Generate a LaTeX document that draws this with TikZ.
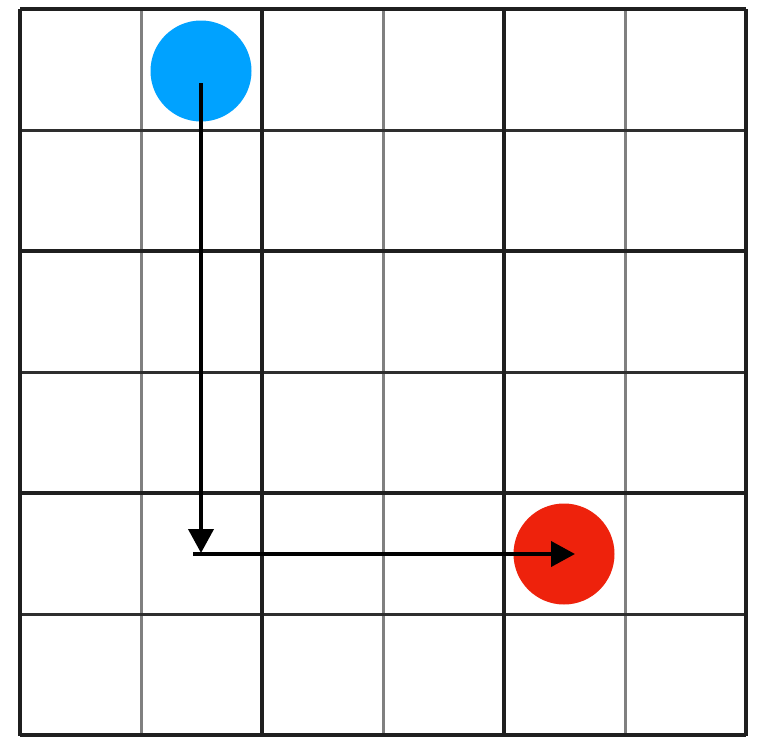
\documentclass[tikz,border=0pt]{standalone}
\usetikzlibrary{arrows.meta}
\definecolor{dotblue}{HTML}{00A2FF}
\definecolor{dotred}{HTML}{EE220C}
\begin{document}
\begin{tikzpicture}[x=1pt,y=-1pt,
  major/.style={line width=3.6pt,black!88},
  minorv/.style={line width=3pt,black!50},
  minorh/.style={line width=3pt,black!82},
  dot/.style={circle,minimum size=101pt,inner sep=0pt},
  path/.style={line width=4pt,black,-{Triangle[width=25pt,length=24pt]}}]
\useasboundingbox (0,0) rectangle (762,736);
\fill[white] (0,0) rectangle (762,736);
% grid
\foreach \x in {141,383,625} \draw[minorv] (\x,9) -- (\x,736);
\foreach \y in {130,372,614} \draw[minorh] (20,\y) -- (746,\y);
\foreach \x in {20,262,504,746} \draw[major] (\x,9) -- (\x,736);
\foreach \y in {9,251,493,735} \draw[major] (20,\y) -- (746,\y);
% dots
\node[dot,fill=dotblue] (start) at (201,71) {};
\node[dot,fill=dotred] (goal) at (564,554) {};
% path
\coordinate (s) at (201,83);
\coordinate (c1) at (201,553);
\coordinate (c2) at (193,554);
\coordinate (e) at (575,554);
\draw[path] (s) -- (c1);
\draw[path] (c2) -- (e);
\end{tikzpicture}
\end{document}
